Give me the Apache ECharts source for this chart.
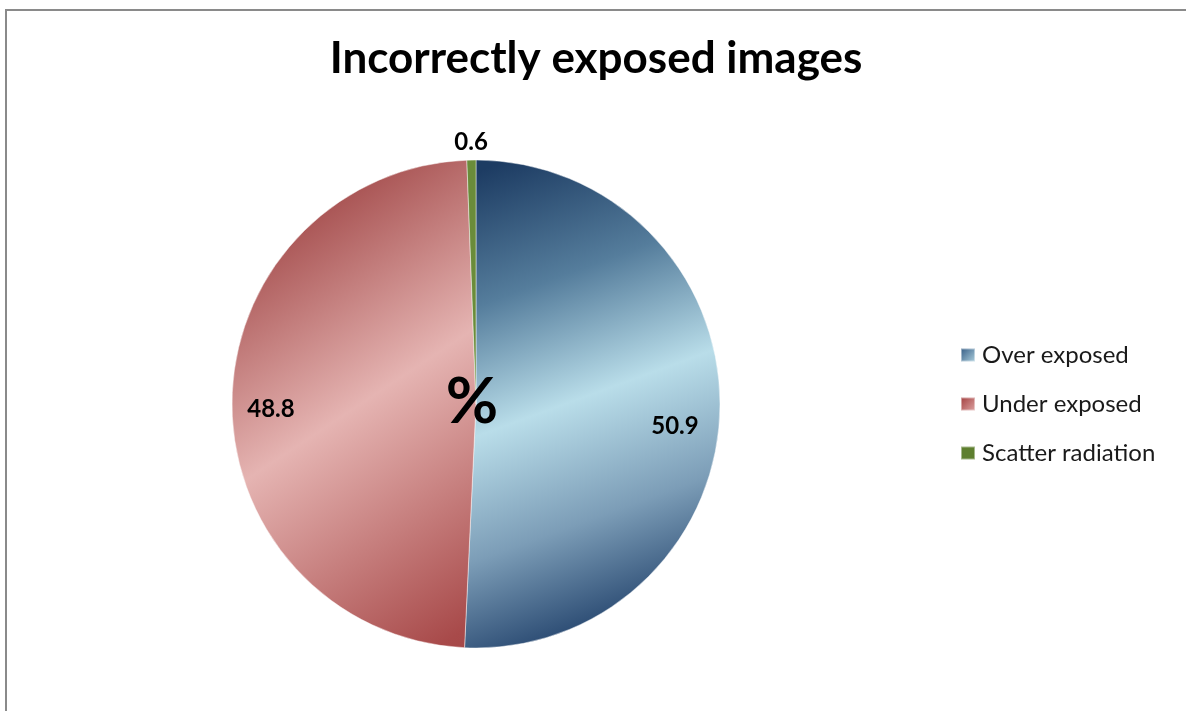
<!DOCTYPE html>
<html>
<head>
<meta charset="utf-8">
<script src="https://cdn.jsdelivr.net/npm/echarts@6/dist/echarts.min.js"></script>
<style>
    html, body { margin: 0; padding: 0; background: #fff; }
    #pie-chart { width: 1186px; height: 711px; }
</style>
</head>
<body>
<div id="pie-chart"></div>
<script>
    // data (percent of incorrectly exposed images)
    const categories = ['Over exposed', 'Under exposed', 'Scatter radiation']
    const values = [50.9, 48.8, 0.6]

    const FONT = 'Lato, "Open Sans", sans-serif'
    const G = echarts.graphic

    // slice fills: banded gradients like the office chart style
    const sliceFills = [
        new G.LinearGradient(400, 200, 560, 640, [
            {offset: 0, color: '#1d3c63'},
            {offset: 0.27, color: '#557d9c'},
            {offset: 0.53, color: '#b9dde9'},
            {offset: 0.78, color: '#7c9db7'},
            {offset: 1, color: '#2a4a72'}
        ], true),
        new G.LinearGradient(330, 170, 638, 635, [
            {offset: 0, color: '#a04646'},
            {offset: 0.38, color: '#e5b4b2'},
            {offset: 0.82, color: '#a84a4a'},
            {offset: 1, color: '#9a3c3c'}
        ], true),
        '#6a8c3a'
    ]
    const legendFills = [
        new G.LinearGradient(0, 0, 1, 1, [
            {offset: 0, color: '#2e5680'}, {offset: 1, color: '#b3d5e2'}
        ]),
        new G.LinearGradient(0, 0, 1, 1, [
            {offset: 0, color: '#a03a3a'}, {offset: 1, color: '#e0a9a8'}
        ]),
        '#5e7f2f'
    ]
    // nudges for the two big labels, the office layout puts them off the mid angle
    const labelOffsets = [[-6, 17], [0, 6], [0, 0]]

    const center = [476, 404]
    const R = 244

    let chart = echarts.init(document.getElementById('pie-chart'))
    let option = {
        animation: false,
        backgroundColor: '#fff',
        title: [
            {
                text: 'Incorrectly exposed images',
                left: 596, top: 37, textAlign: 'center', padding: 0,
                textStyle: {fontFamily: FONT, fontWeight: 'bold', fontSize: 44, color: '#000'}
            },
            {
                text: '%',
                left: 472, top: 370, textAlign: 'center', padding: 0,
                textStyle: {fontFamily: FONT, fontWeight: 'bold', fontSize: 64, color: '#000'}
            }
        ],
        legend: {
            orient: 'vertical',
            left: 960, top: 343, padding: 0,
            itemWidth: 14, itemHeight: 13, itemGap: 25,
            icon: 'rect',
            textStyle: {fontFamily: FONT, fontSize: 24, color: '#1a1a1a', padding: [0, 0, 0, 2]},
            data: categories.map((c, i) => ({name: c, itemStyle: {color: legendFills[i]}}))
        },
        graphic: [{
            type: 'rect', silent: true, z: -1,
            shape: {x: 6, y: 10, width: 1300, height: 800},
            style: {fill: 'none', stroke: '#8a8a8a', lineWidth: 2}
        }],
        series: [
            {
                // the pie itself
                type: 'pie', center: center, radius: [0, R],
                startAngle: 90, clockwise: true, silent: true,
                label: {show: false}, labelLine: {show: false},
                itemStyle: {borderColor: 'rgba(255,255,255,0.45)', borderWidth: 1},
                data: categories.map((c, i) => ({name: c, value: values[i], itemStyle: {color: sliceFills[i]}}))
            },
            {
                // transparent ring that carries the inside labels
                type: 'pie', center: center, radius: [160, R],
                startAngle: 90, clockwise: true, silent: true,
                legendHoverLink: false,
                itemStyle: {color: 'rgba(0,0,0,0)'},
                label: {
                    show: true, position: 'inside',
                    fontFamily: FONT, fontWeight: 'bold', fontSize: 24, color: '#000',
                    formatter: p => p.value.toFixed(1)
                },
                labelLine: {show: false},
                data: categories.map((c, i) => ({
                    name: c, value: values[i],
                    label: {show: values[i] >= 5, offset: labelOffsets[i]}
                }))
            },
            {
                // outer ring for the tiny slice label
                type: 'pie', center: center, radius: [R + 5, R + 25],
                startAngle: 90, clockwise: true, silent: true,
                legendHoverLink: false,
                itemStyle: {color: 'rgba(0,0,0,0)'},
                label: {
                    show: true, position: 'inside',
                    fontFamily: FONT, fontWeight: 'bold', fontSize: 24, color: '#000',
                    formatter: p => p.value.toFixed(1)
                },
                labelLine: {show: false},
                data: categories.map((c, i) => ({
                    name: c, value: values[i],
                    label: {show: values[i] < 5}
                }))
            }
        ]
    }
    chart.setOption(option)
</script>
</body>
</html>
